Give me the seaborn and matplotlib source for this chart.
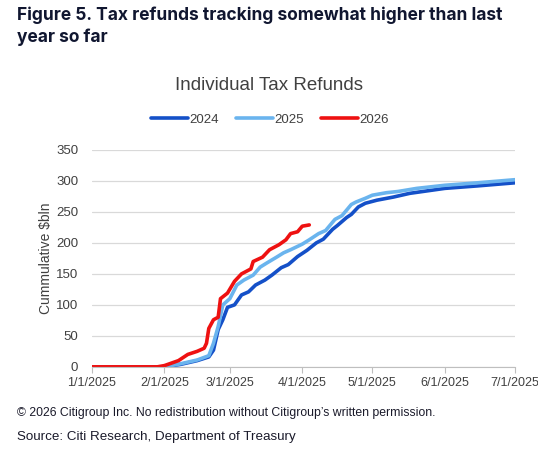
import pandas as pd
import matplotlib
matplotlib.use("Agg")
import matplotlib.pyplot as plt
import matplotlib.dates as mdates
import seaborn as sns

# values (all years placed on the 2025 calendar)
dates_2024 = ["2025-01-01", "2025-02-01", "2025-02-08", "2025-02-15", "2025-02-20",
              "2025-02-22", "2025-02-24", "2025-02-26", "2025-02-28", "2025-03-03",
              "2025-03-06", "2025-03-09", "2025-03-12", "2025-03-16", "2025-03-19",
              "2025-03-23", "2025-03-26", "2025-03-30", "2025-04-03", "2025-04-07",
              "2025-04-10", "2025-04-14", "2025-04-16", "2025-04-20", "2025-04-22",
              "2025-04-25", "2025-04-28", "2025-05-03", "2025-05-10", "2025-05-17",
              "2025-06-01", "2025-06-15", "2025-07-01"]
vals_2024 = [0, 0, 4, 10, 16, 27, 60, 76, 96, 100, 116, 121, 132, 140, 148,
             160, 165, 178, 188, 200, 206, 222, 228, 241, 246, 258, 264, 269,
             274, 280, 288, 292, 297]

dates_2025 = ["2025-01-01", "2025-02-01", "2025-02-08", "2025-02-15", "2025-02-20",
              "2025-02-22", "2025-02-24", "2025-02-26", "2025-03-01", "2025-03-04",
              "2025-03-07", "2025-03-11", "2025-03-14", "2025-03-17", "2025-03-21",
              "2025-03-24", "2025-03-27", "2025-04-01", "2025-04-04", "2025-04-08",
              "2025-04-11", "2025-04-15", "2025-04-18", "2025-04-22", "2025-04-24",
              "2025-04-28", "2025-05-01", "2025-05-07", "2025-05-12", "2025-05-20",
              "2025-06-01", "2025-06-15", "2025-07-01"]
vals_2025 = [0, 0, 5, 11, 18, 38, 65, 100, 110, 132, 140, 148, 161, 168, 177,
             184, 189, 198, 205, 215, 220, 238, 244, 262, 266, 272, 277, 281,
             283, 288, 293, 297, 302]

dates_2026 = ["2025-01-01", "2025-01-29", "2025-02-01", "2025-02-07", "2025-02-11",
              "2025-02-15", "2025-02-18", "2025-02-19", "2025-02-20", "2025-02-22",
              "2025-02-24", "2025-02-25", "2025-02-28", "2025-03-03", "2025-03-06",
              "2025-03-10", "2025-03-11", "2025-03-15", "2025-03-18", "2025-03-22",
              "2025-03-25", "2025-03-27", "2025-03-30", "2025-04-01", "2025-04-04"]
vals_2026 = [0, 0, 2, 10, 20, 25, 30, 38, 62, 76, 80, 110, 119, 138, 150,
             158, 170, 177, 189, 197, 205, 215, 218, 227, 229]

years = ["2024", "2025", "2026"]
colors = {"2024": "#1450c8", "2025": "#6ab4ee", "2026": "#ee1111"}

frames = []
for yr, d, v in [("2024", dates_2024, vals_2024),
                 ("2025", dates_2025, vals_2025),
                 ("2026", dates_2026, vals_2026)]:
    frames.append(pd.DataFrame({"date": pd.to_datetime(d), "value": v, "year": yr}))
df = pd.concat(frames, ignore_index=True)

sns.set_style("white")
plt.rcParams["font.family"] = ["Liberation Sans", "DejaVu Sans"]

fig = plt.figure(figsize=(5.38, 4.49), dpi=100)
ax = fig.add_axes([0.171, 0.183, 0.786, 0.483])

sns.lineplot(data=df, x="date", y="value", hue="year", hue_order=years,
             palette=colors, linewidth=2.6, ax=ax)

ax.set_xlim(pd.Timestamp("2025-01-01"), pd.Timestamp("2025-07-01"))
ax.set_ylim(0, 350)
ax.set_yticks(range(0, 351, 50))
ax.grid(axis="y", color="#d9d9d9", linewidth=0.9)
ax.grid(axis="x", visible=False)
ax.set_axisbelow(True)
for s in ["top", "right", "left"]:
    ax.spines[s].set_visible(False)
ax.spines["bottom"].set_color("#bfbfbf")

ticks = pd.date_range("2025-01-01", "2025-07-01", freq="MS")
ax.set_xticks(ticks)
ax.xaxis.set_major_formatter(mdates.DateFormatter("%-m/%-d/%Y"))
ax.tick_params(axis="x", length=4, color="#bfbfbf", labelsize=9,
               labelcolor="#404040", bottom=True, pad=3)
ax.tick_params(axis="y", length=0, labelsize=9.5, labelcolor="#404040", pad=10)
ax.set_xlabel("")
ax.set_ylabel("Cummulative $bln", fontsize=10, color="#404040", labelpad=2)

ax.legend(loc="center", bbox_to_anchor=(0.42, 1.14), ncol=3, frameon=False,
          fontsize=9.5, handlelength=2.8, handletextpad=0.1, columnspacing=1.3,
          labelcolor="#404040")

fig.text(0.5, 0.810, "Individual Tax Refunds", ha="center", va="center",
         fontsize=13.5, color="#404040")

fig.text(0.032, 0.985, "Figure 5. Tax refunds tracking somewhat higher than last\nyear so far",
         ha="left", va="top", fontsize=12.5, fontweight="bold", color="#101630",
         family=["Inter", "DejaVu Sans"], linespacing=1.35)

fig.text(0.032, 0.080, "\u00a9 2026 Citigroup Inc. No redistribution without Citigroup\u2019s written permission.",
         ha="left", va="center", fontsize=8.8, color="#1a1a2a")
fig.text(0.032, 0.027, "Source: Citi Research, Department of Treasury",
         ha="left", va="center", fontsize=9.6, color="#1a1a2a")

fig.savefig("out.png", dpi=100)
